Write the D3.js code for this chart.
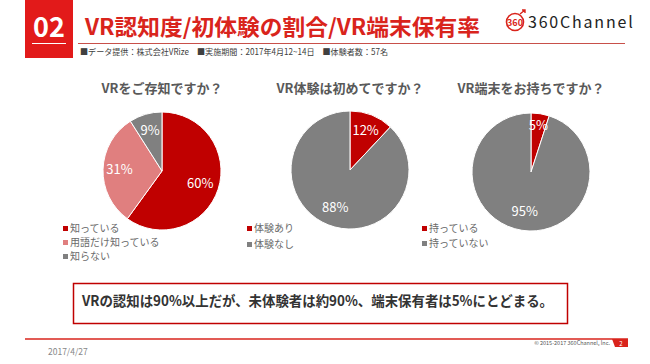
<!DOCTYPE html>
<html><head><meta charset="utf-8">
<script src="https://cdn.jsdelivr.net/npm/d3@7"></script>
<style>
html,body{margin:0;padding:0;background:#fff;}
svg{display:block;}
text{font-family:"Noto Sans CJK JP","Noto Sans",sans-serif;}
</style></head>
<body>
<svg id="c" width="650" height="364"></svg>
<script>
// ---- data ----
const chartTitles = ["VRをご存知ですか？", "VR体験は初めてですか？", "VR端末をお持ちですか？"];
const awarenessCats = ["知っている", "用語だけ知っている", "知らない"];
const awarenessVals = [60, 31, 9];
const experienceCats = ["体験あり", "体験なし"];
const experienceVals = [12, 88];
const ownershipCats = ["持っている", "持っていない"];
const ownershipVals = [5, 95];
const headline = "VR認知度/初体験の割合/VR端末保有率";
const subline = "■データ提供：株式会社VRize　■実施期間：2017年4月12~14日　■体験者数：57名";
const conclusion = "VRの認知は90%以上だが、未体験者は約90%、端末保有者は5%にとどまる。";

const RED = "#C00000", PINK = "#E07F7F", GRAY = "#808080";
const svg = d3.select("#c");

// header
svg.append("rect").attr("x",25).attr("y",0).attr("width",48).attr("height",58).attr("fill","#E21A1A");
svg.append("text").attr("x",49).attr("y",37).attr("text-anchor","middle").attr("fill","#fff")
  .attr("font-family","Roboto,'Liberation Sans',sans-serif").attr("font-weight","bold").attr("font-size",27).text("02");
svg.append("line").attr("x1",32).attr("x2",66).attr("y1",43.5).attr("y2",43.5).attr("stroke","#fff").attr("stroke-width",1);
svg.append("text").attr("x",85).attr("y",35).attr("fill","#D9241C").attr("font-weight","bold").attr("font-size",22)
  .attr("textLength",395).attr("lengthAdjust","spacingAndGlyphs").text(headline);
svg.append("line").attr("x1",78).attr("x2",625).attr("y1",43.5).attr("y2",43.5).attr("stroke","#C8504A").attr("stroke-width",1);
svg.append("text").attr("x",80).attr("y",55).attr("fill","#404040").attr("font-size",8.5)
  .attr("textLength",308).attr("lengthAdjust","spacingAndGlyphs").text(subline);

// logo
const lg = svg.append("g").attr("transform","translate(515,22)");
lg.append("circle").attr("r",8.5).attr("fill","none").attr("stroke","#D9241C").attr("stroke-width",1.6);
lg.append("text").attr("x",0).attr("y",3.5).attr("text-anchor","middle").attr("fill","#D9241C")
  .attr("font-size",9).attr("font-weight","bold").attr("font-family","Roboto,sans-serif").text("360");
lg.append("path").attr("d","M5,-8 L10,-12 M7,-12 L10,-12 L10,-9").attr("stroke","#D9241C").attr("stroke-width",1.4).attr("fill","none");
svg.append("text").attr("x",528).attr("y",28).attr("fill","#222").attr("font-size",16).attr("font-weight","400")
  .attr("font-family","Roboto,'DejaVu Sans',sans-serif").attr("letter-spacing",1.8).text("360Channel");

// pies
const pies = [
  {cx:162, cy:171, cats:awarenessCats, vals:awarenessVals, colors:[RED,PINK,GRAY], lx:63, ly:228, ls:14, lr:[0.68,0.72,0.72]},
  {cx:350, cy:170, cats:experienceCats, vals:experienceVals, colors:[RED,GRAY], lx:247, ly:228, ls:16, lr:[0.72,0.68]},
  {cx:531, cy:172, cats:ownershipCats, vals:ownershipVals, colors:[RED,GRAY], lx:422, ly:228, ls:15, lr:[0.8,0.68]}
];
const R = 59;
pies.forEach((p,i)=>{
  svg.append("text").attr("x",p.cx).attr("y",93).attr("text-anchor","middle").attr("fill","#595959")
    .attr("font-weight","bold").attr("font-size",13).text(chartTitles[i]);
  const g = svg.append("g").attr("transform",`translate(${p.cx},${p.cy})`);
  const arcs = d3.pie().sort(null).value(d=>d)(p.vals);
  const arc = d3.arc().innerRadius(0).outerRadius(R);
  g.selectAll("path").data(arcs).join("path").attr("d",arc)
    .attr("fill",(d,j)=>p.colors[j]).attr("stroke","#fff").attr("stroke-width",1);
  g.selectAll("text.lbl").data(arcs).join("text").attr("class","lbl")
    .attr("transform",(d,j)=>{const a=d3.arc().innerRadius(0).outerRadius(2*R*p.lr[j]); return `translate(${a.centroid(d)})`;})
    .attr("text-anchor","middle").attr("dy","0.36em").attr("fill","#fff").attr("font-size",13)
    .attr("font-family","'Open Sans','Noto Sans',sans-serif").text(d=>d.data+"%");
  const lgd = svg.append("g");
  p.cats.forEach((c,j)=>{
    lgd.append("rect").attr("x",p.lx).attr("y",p.ly+j*p.ls-2).attr("width",5).attr("height",5).attr("fill",p.colors[j]);
    lgd.append("text").attr("x",p.lx+7).attr("y",p.ly+j*p.ls+4).attr("fill","#6a6a6a").attr("font-size",10).text(c);
  });
});

// conclusion box
svg.append("rect").attr("x",73.5).attr("y",283.5).attr("width",494).attr("height",40).attr("fill","#fff")
  .attr("stroke","#C00000").attr("stroke-width",1.5);
svg.append("text").attr("x",82).attr("y",306).attr("fill","#333").attr("font-weight","bold").attr("font-size",14)
  .attr("textLength",471).attr("lengthAdjust","spacingAndGlyphs").text(conclusion);

// footer
svg.append("line").attr("x1",25).attr("x2",628).attr("y1",339).attr("y2",339).attr("stroke","#D9241C").attr("stroke-width",1.5);
svg.append("path").attr("d","M612,339 L628,339 L628,347 L615,347 Z").attr("fill","#D9241C");
svg.append("text").attr("x",621).attr("y",346).attr("text-anchor","middle").attr("fill","#fff").attr("font-size",6)
  .attr("font-family","'Liberation Sans',sans-serif").text("2");
svg.append("text").attr("x",610).attr("y",345).attr("text-anchor","end").attr("fill","#555").attr("font-size",5.5)
  .attr("font-family","'Liberation Sans',sans-serif").text("© 2015-2017 360Channel, Inc.");
svg.append("text").attr("x",48).attr("y",355).attr("fill","#888").attr("font-size",8.5)
  .attr("font-family","'Liberation Sans',sans-serif").text("2017/4/27");
</script>
</body></html>
